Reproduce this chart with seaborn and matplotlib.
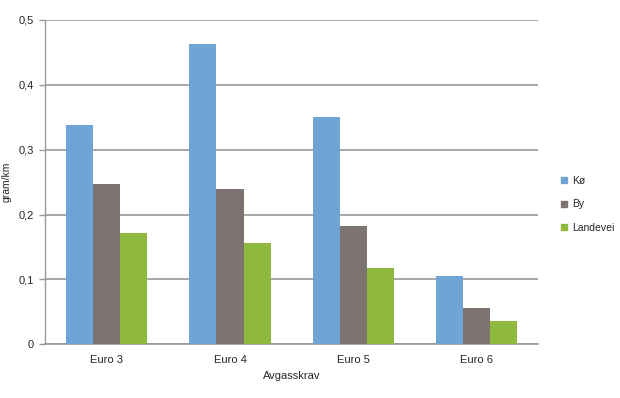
import matplotlib
matplotlib.use("Agg")
import matplotlib.pyplot as plt
from matplotlib.lines import Line2D
import seaborn as sns
import pandas as pd

categories = ["Euro 3", "Euro 4", "Euro 5", "Euro 6"]
series = ["Kø", "By", "Landevei"]
ko = [0.338, 0.463, 0.351, 0.105]
by = [0.247, 0.239, 0.182, 0.056]
landevei = [0.172, 0.156, 0.118, 0.036]
yticks = [0, 0.1, 0.2, 0.3, 0.4, 0.5]
ytick_labels = ["0", "0,1", "0,2", "0,3", "0,4", "0,5"]
colors = ["#6FA4D6", "#7D7371", "#8FB93C"]

df = pd.DataFrame({
    "Avgasskrav": categories * 3,
    "verdi": ko + by + landevei,
    "serie": [s for s in series for _ in categories],
})

sns.set_style("white")
plt.rcParams["font.family"] = ["Liberation Sans", "DejaVu Sans"]

fig, ax = plt.subplots(figsize=(6.2, 3.98), dpi=100)
fig.subplots_adjust(left=0.0726, right=0.868, top=0.95, bottom=0.135)

sns.barplot(data=df, x="Avgasskrav", y="verdi", hue="serie", palette=colors,
            width=0.66, ax=ax, legend=False, saturation=1, zorder=3,
            linewidth=0)

ax.set_ylim(0, 0.5)
ax.set_xlim(-0.5, 3.5)
ax.set_yticks(yticks)
ax.set_yticklabels(ytick_labels, fontsize=8)
ax.tick_params(axis="x", labelsize=8, length=0, pad=8)
ax.tick_params(axis="y", length=4, width=1, color="#999999", pad=4, left=True)
ax.yaxis.grid(True, color="#999999", linewidth=1.2, zorder=0)
for side in ["top", "right"]:
    ax.spines[side].set_visible(False)
ax.spines["left"].set_color("#999999")
ax.spines["bottom"].set_color("#999999")
ax.spines["left"].set_linewidth(1)
ax.spines["bottom"].set_linewidth(1.2)

ax.set_xlabel("Avgasskrav", fontsize=8, labelpad=4)
ax.set_ylabel("gram/km", fontsize=7.5, labelpad=5)

handles = [Line2D([], [], marker="s", linestyle="", markersize=5,
                  color=c, label=s) for c, s in zip(colors, series)]
fig.legend(handles=handles, loc="upper left", bbox_to_anchor=(0.905, 0.558),
           frameon=False, fontsize=7.5, handlelength=0.6, handletextpad=0.5,
           labelspacing=1.3, borderpad=0, borderaxespad=0)

fig.savefig("out.png", dpi=100)
